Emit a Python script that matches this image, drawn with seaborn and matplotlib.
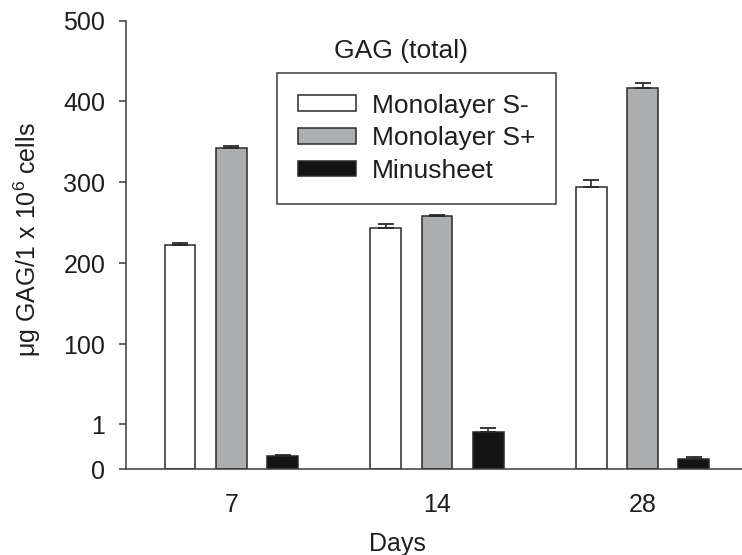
import numpy as np
import pandas as pd
import matplotlib
matplotlib.use("Agg")
import matplotlib.pyplot as plt
import seaborn as sns

# GAG content per 1e6 cells, by culture condition and day
days = ["7", "14", "28"]
cultures = ["Monolayer S-", "Monolayer S+", "Minusheet"]
mono_minus = [222, 243, 294]
mono_plus = [343, 258, 416]
minusheet = [0.30, 0.82, 0.23]
mono_minus_err = [2.5, 5, 8.5]
mono_plus_err = [2.5, 1.5, 7]
minusheet_err = [0.02, 0.10, 0.05]
yticks = [0, 1, 100, 200, 300, 400, 500]

means = {"Monolayer S-": mono_minus, "Monolayer S+": mono_plus, "Minusheet": minusheet}
errs = {"Monolayer S-": mono_minus_err, "Monolayer S+": mono_plus_err, "Minusheet": minusheet_err}

df = pd.DataFrame(
    [(d, c, means[c][i]) for c in cultures for i, d in enumerate(days)],
    columns=["Days", "Culture", "GAG"],
)

sns.set_style("ticks")
plt.rcParams["font.family"] = ["Liberation Sans", "DejaVu Sans"]
plt.rcParams["mathtext.fontset"] = "custom"
plt.rcParams["mathtext.rm"] = "Liberation Sans"
plt.rcParams["mathtext.default"] = "regular"

ink = "#1e1e1e"
axis_col = "#3c3c3c"
palette = {"Monolayer S-": "#ffffff", "Monolayer S+": "#abaeb1", "Minusheet": "#141414"}

fig = plt.figure(figsize=(7.42, 5.55), dpi=100)
ax = fig.add_axes([126 / 742, 1 - 469.3 / 555, 616 / 742, 448.8 / 555])

sns.barplot(
    data=df, x="Days", y="GAG", hue="Culture", order=days, hue_order=cultures,
    palette=palette, width=0.75, gap=0.4, edgecolor="#2a2a2a", linewidth=1.1,
    errorbar=None, ax=ax, legend=True,
)

# broken-style axis: 0..1 stretched, then linear up to 500
A = 55.6
def fwd(v):
    v = np.asarray(v, dtype=float)
    return np.where(v <= 1, v * A, A + (v - 1))
def inv(y):
    y = np.asarray(y, dtype=float)
    return np.where(y <= A, y / A, y - A + 1)
ax.set_yscale("function", functions=(fwd, inv))
ax.set_ylim(0, 500)
ax.set_xlim(-0.513, 2.484)

# upper error bars on each bar
for cont, c in zip(ax.containers, cultures):
    xs = [p.get_x() + p.get_width() / 2 for p in cont]
    hs = [p.get_height() for p in cont]
    e = errs[c]
    ax.errorbar(xs, hs, yerr=[np.zeros(len(e)), e], fmt="none", ecolor="#2a2a2a",
                elinewidth=1.2, capsize=5.5, capthick=1.3, zorder=3)

ax.set_yticks(yticks)
ax.set_yticklabels([str(t) for t in yticks])
ax.yaxis.set_minor_locator(matplotlib.ticker.NullLocator())
ax.tick_params(axis="y", length=5, width=1.1, color=axis_col, pad=10, labelsize=18, labelcolor=ink)
ax.tick_params(axis="x", length=0, pad=17, labelsize=18, labelcolor=ink)

for s in ["top", "right"]:
    ax.spines[s].set_visible(False)
for s in ["left", "bottom"]:
    ax.spines[s].set_color(axis_col)
    ax.spines[s].set_linewidth(1.1)

ax.set_xlabel("Days", fontsize=18, color=ink)
ax.xaxis.set_label_coords(0.44, -0.14)
ax.set_ylabel(r"μg GAG/1 x 10$^{6}$ cells", fontsize=18, color=ink)
ax.yaxis.set_label_coords(-0.134, 0.511)

handles, labels = ax.get_legend_handles_labels()
ax.legend(
    handles, labels, loc="upper left", bbox_to_anchor=(277 / 742, 1 - 73 / 555),
    bbox_transform=fig.transFigure, frameon=True, fancybox=False, edgecolor=ink,
    fontsize=19, handlelength=2.23, handleheight=0.53, handletextpad=0.6,
    borderpad=0.78, labelspacing=0.33, borderaxespad=0, title=None,
)
leg = ax.get_legend()
leg.get_frame().set_linewidth(1.2)
for t in leg.get_texts():
    t.set_color(ink)

fig.text(401 / 742, 1 - 51 / 555, "GAG (total)", ha="center", va="center", fontsize=19, color=ink)

fig.savefig("out.png", dpi=100)
